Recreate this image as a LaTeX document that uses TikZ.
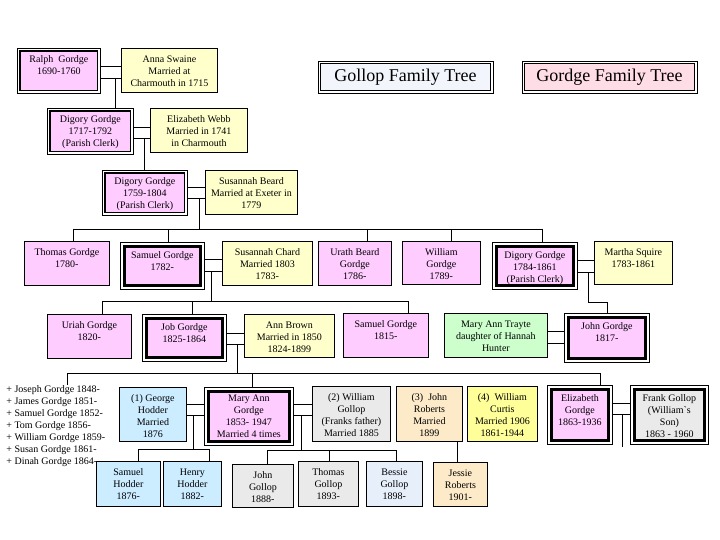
\documentclass[tikz,border=0pt]{standalone}
\usepackage{fontspec}
\setmainfont{Liberation Serif}

\definecolor{gpink}{HTML}{FFCCFF}
\definecolor{wyellow}{HTML}{FFFFCC}
\definecolor{tgreen}{HTML}{CCFFCC}
\definecolor{hblue}{HTML}{CCECFF}
\definecolor{ggrey}{HTML}{EAEAEA}
\definecolor{rpeach}{HTML}{FDEAC9}
\definecolor{cyellow}{HTML}{FFFF99}
\definecolor{paleblue}{HTML}{E7EFFB}
\definecolor{gollopbg}{HTML}{F2F6FC}
\definecolor{gordgebg}{HTML}{FFDDE6}

% text of a box: width, height, lines
\newcommand{\toppad}{10pt}
\newcommand{\boxtext}[3]{\parbox[c][\dimexpr#2pt-9pt\relax][t]{\dimexpr#1pt-2pt\relax}{\centering\rule{0pt}{\toppad}#3\par}}

\tikzset{
  person/.style={draw, line width=0.8pt, inner xsep=1pt, inner ysep=4.5pt,
    anchor=north west, font=\fontsize{10}{12}\selectfont, /utils/exec=\def\toppad{10pt}},
  gordge/.style={person, fill=gpink},
  wife/.style={person, fill=wyellow},
  lineA/.style={path picture={%
    \draw[white, line width=4pt] (path picture bounding box.south west) rectangle (path picture bounding box.north east);
    \draw[line width=1.3pt] ([shift={(2.6pt,2.6pt)}]path picture bounding box.south west) rectangle ([shift={(-2.6pt,-2.6pt)}]path picture bounding box.north east);}},
  lineB/.style={/utils/exec=\def\toppad{11.3pt}, path picture={%
    \draw[white, line width=5pt] (path picture bounding box.south west) rectangle (path picture bounding box.north east);
    \draw[line width=3pt] ([shift={(4pt,4pt)}]path picture bounding box.south west) rectangle ([shift={(-4pt,-4pt)}]path picture bounding box.north east);}},
  headbox/.style={draw, line width=0.8pt, minimum width=175pt, minimum height=32pt,
    font=\fontsize{18}{20}\selectfont, path picture={%
    \draw[white, line width=4pt] (path picture bounding box.south west) rectangle (path picture bounding box.north east);
    \draw[line width=0.8pt] ([shift={(2.4pt,2.4pt)}]path picture bounding box.south west) rectangle ([shift={(-2.4pt,-2.4pt)}]path picture bounding box.north east);}},
}

\begin{document}
\begin{tikzpicture}[x=1pt, y=-1pt, line width=0.8pt]
\useasboundingbox (0,0) rectangle (720,540);

\node[headbox, fill=gollopbg] (gollop) at (405.5,77) {Gollop Family Tree};
\node[headbox, fill=gordgebg] (gordgeT) at (609.5,77) {Gordge Family Tree};

% first generations
\node[gordge, lineA] (ralph) at (17,48) {\boxtext{83}{45}{Ralph\ \ Gordge\\1690-1760}};
\node[wife] (anna) at (121,48) {\boxtext{96}{44}{Anna Swaine\\Married at\\Charmouth in 1715}};
\node[gordge, lineA] (digA) at (47,108) {\boxtext{86}{46}{Digory Gordge\\1717-1792\\(Parish Clerk)}};
\node[wife] (ewebb) at (150,108) {\boxtext{97}{44}{Elizabeth Webb\\Married in 1741\\in Charmouth}};
\node[gordge, lineA] (digB) at (102,170) {\boxtext{85}{45}{Digory Gordge\\1759-1804\\(Parish Clerk)}};
\node[wife] (sbeard) at (205,170) {\boxtext{92}{44}{Susannah Beard\\Married at Exeter in\\1779}};

% children of Digory and Susannah
\node[gordge] (thomas) at (24,241) {\boxtext{85}{44}{Thomas Gordge\\1780-}};
\node[gordge, lineB] (samuel) at (120,242) {\boxtext{84}{47}{Samuel Gordge\\1782-}};
\node[wife] (schard) at (222,241) {\boxtext{90}{44}{Susannah Chard\\Married 1803\\1783-}};
\node[gordge] (urath) at (318,241) {\boxtext{73}{44}{Urath Beard\\Gordge\\1786-}};
\node[gordge] (william) at (402,241) {\boxtext{78}{43}{William\\Gordge\\1789-}};
\node[gordge, lineB] (digC) at (492,242) {\boxtext{85}{47}{Digory Gordge\\1784-1861\\(Parish Clerk)}};
\node[wife] (martha) at (594,241) {\boxtext{78}{43}{Martha Squire\\1783-1861}};

% grandchildren
\node[gordge] (uriah) at (47,314) {\boxtext{84}{44}{Uriah Gordge\\1820-}};
\node[gordge, lineB] (job) at (142,314) {\boxtext{84}{47}{Job Gordge\\1825-1864}};
\node[wife] (abrown) at (244,314) {\boxtext{90}{43}{Ann Brown\\Married in 1850\\1824-1899}};
\node[gordge] (samB) at (343,313) {\boxtext{85}{44}{Samuel Gordge\\1815-}};
\node[person, fill=tgreen] (mtrayte) at (444,313) {\boxtext{103}{44}{Mary Ann Trayte\\daughter of Hannah\\Hunter}};
\node[gordge, lineB] (john) at (564,313) {\boxtext{85}{49}{John Gordge\\1817-}};

% children of Job and Ann
\node[anchor=north west, align=left, inner sep=0pt, font=\fontsize{10}{12}\selectfont] (kids) at (6,385)
  {+ Joseph Gordge 1848-\\+ James Gordge 1851-\\+ Samuel Gordge 1852-\\+ Tom Gordge 1856-\\+ William Gordge 1859-\\+ Susan Gordge 1861-\\+ Dinah Gordge 1864-};
\node[person, fill=hblue] (ghodder) at (119,387) {\boxtext{67}{54}{(1) George\\Hodder\\Married\\1876}};
\node[gordge, lineB, /utils/exec=\def\toppad{9.6pt}] (maryann) at (204,387) {\boxtext{89}{58}{Mary Ann\\Gordge\\1853- 1947\\Married 4 times}};
\node[person, fill=ggrey] (wgollop) at (312,386) {\boxtext{78}{55}{(2) William\\Gollop\\(Franks father)\\Married 1885}};
\node[person, fill=rpeach] (jroberts) at (396,386) {\boxtext{66}{55}{(3)\ \ John\\Roberts\\Married\\1899}};
\node[person, fill=cyellow] (wcurtis) at (467,386) {\boxtext{70}{55}{(4)\ \ William\\Curtis\\Married 1906\\1861-1944}};
\node[gordge, lineB] (elizabeth) at (547,385) {\boxtext{65}{59}{Elizabeth\\Gordge\\1863-1936}};
\node[person, fill=ggrey, lineB] (frank) at (630,385) {\boxtext{78}{59}{Frank Gollop\\(William\textasciigrave s\\Son)\\1863 - 1960}};

% children of Mary Ann
\node[person, fill=hblue] (shodder) at (96,461) {\boxtext{64}{45}{Samuel\\Hodder\\1876-}};
\node[person, fill=hblue] (hhodder) at (163,461) {\boxtext{58}{45}{Henry\\Hodder\\1882-}};
\node[person, fill=ggrey] (jgollop) at (232,464) {\boxtext{61}{43}{John\\Gollop\\1888-}};
\node[person, fill=ggrey] (tgollop) at (298,461) {\boxtext{60}{45}{Thomas\\Gollop\\1893-}};
\node[person, fill=paleblue] (bgollop) at (366,461) {\boxtext{56}{45}{Bessie\\Gollop\\1898-}};
\node[person, fill=rpeach] (jessie) at (433,462) {\boxtext{54}{44}{Jessie\\Roberts\\1901-}};

% marriages
\foreach \a/\b/\ya/\yb in {ralph/anna/66/78, digA/ewebb/127/138, digB/sbeard/187/198,
    samuel/schard/259/271, digC/martha/260/272, job/abrown/333/344, mtrayte/john/331/343,
    ghodder/maryann/404/415, maryann/wgollop/404/415, elizabeth/frank/403/414}
  \draw (\a.east |- 0,\ya) -- (\b.west |- 0,\ya)
        (\a.east |- 0,\yb) -- (\b.west |- 0,\yb);

% descent
\coordinate (jA) at (115,78);
\coordinate (jB) at (144,138);
\coordinate (jC) at (199,198);
\draw (jA) -- (jA |- digA.north);
\draw (jB) -- (jB |- digB.north);
\draw (jC) -- (199,229);
\draw (73,229) -- (542,229);
\foreach \who/\x in {thomas/73, samuel/168, urath/367, william/451, digC/542}
  \draw (\x,229) -- (\x,229 |- \who.north);

\coordinate (jD) at (211,271);
\draw (jD) -- (211,301);
\draw (102,301) -- (408,301);
\foreach \who/\x in {uriah/102, job/192, samB/408}
  \draw (\x,301) -- (\x,301 |- \who.north);

\coordinate (jE) at (588,272);
\draw (jE) -- (588,302) -- (607,302) -- (607,302 |- john.north);

\coordinate (jF) at (237,344);
\draw (jF) -- (237,373);
\draw (67,373) -- (600,373);
\foreach \who/\x in {kids/67, maryann/252, elizabeth/600}
  \draw (\x,373) -- (\x,373 |- \who.north);

\coordinate (jG) at (193,415);
\draw (jG) -- (193,449);
\draw (138,449) -- (209,449);
\foreach \who/\x in {shodder/138, hhodder/209}
  \draw (\x,449) -- (\x,449 |- \who.north);

\coordinate (jH) at (301,415);
\draw (jH) -- (301,450);
\draw (267,450) -- (396,450);
\foreach \who/\x in {jgollop/267, tgollop/329, bgollop/396}
  \draw (\x,450) -- (\x,450 |- \who.north);

\draw (457,0 |- jroberts.south) -- (457,0 |- jessie.north);

\coordinate (jI) at (622,414);
\draw (jI) -- (622,447);
\end{tikzpicture}
\end{document}
